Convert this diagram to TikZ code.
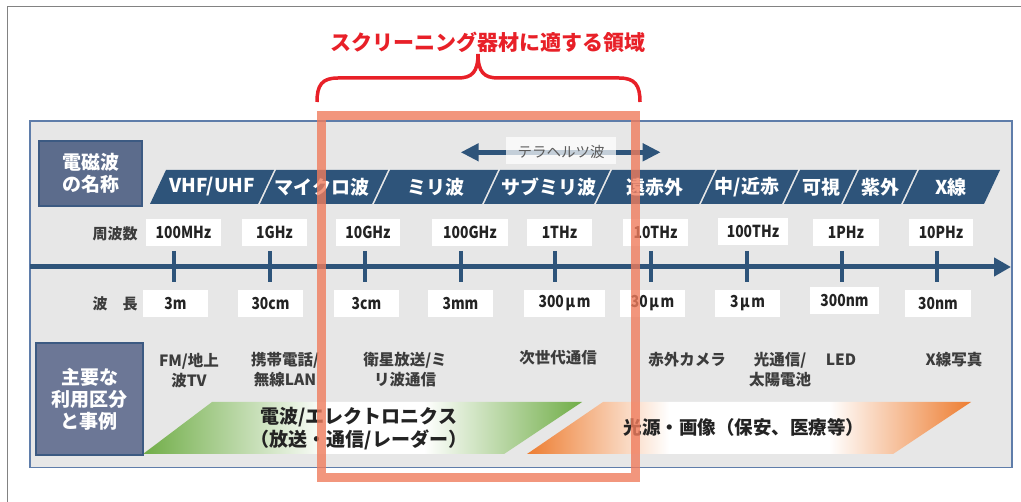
\documentclass[tikz,border=0pt]{standalone}
\usepackage{fontspec}
\setmainfont{Noto Sans CJK JP}
\usetikzlibrary{arrows.meta}
\definecolor{bandblue}{RGB}{46,84,122}
\definecolor{panelgray}{RGB}{231,231,231}
\definecolor{panelborder}{RGB}{95,125,170}
\definecolor{catfillA}{RGB}{92,108,140}
\definecolor{catfillB}{RGB}{108,119,150}
\definecolor{catborder}{RGB}{60,90,130}
\definecolor{framegray}{RGB}{130,130,130}
\definecolor{txtdark}{RGB}{35,35,35}
\definecolor{lblgray}{RGB}{60,60,60}
\definecolor{gdark}{RGB}{112,173,71}
\definecolor{odark}{RGB}{237,125,49}
\definecolor{redbox}{RGB}{239,124,93}
\definecolor{titlered}{RGB}{232,32,40}
\definecolor{thzgray}{RGB}{90,90,90}
\newcommand{\fs}[2]{\fontsize{#1}{#2}\selectfont}
\newcommand{\cnd}[1]{\scalebox{0.84}[1]{#1}}
\pgfdeclarehorizontalshading{greenfade}{100bp}{color(0bp)=(gdark); color(25bp)=(gdark); color(46bp)=(white); color(57bp)=(white); color(75bp)=(gdark); color(100bp)=(gdark)}
\pgfdeclarehorizontalshading{orangefade}{100bp}{color(0bp)=(odark); color(25bp)=(odark); color(41bp)=(white); color(59bp)=(white); color(75bp)=(odark); color(100bp)=(odark)}
\tikzset{
  band/.style={fill=bandblue},
  bandlbl/.style={text=white, font=\fs{19}{22}\bfseries, inner sep=0},
  numbox/.style={fill=white, inner sep=0, minimum height=27, text=txtdark, font=\fs{16.5}{19}\bfseries},
  rowlbl/.style={text=lblgray, font=\fs{15}{18}\bfseries, inner sep=0},
  example/.style={text=lblgray, font=\fs{15.5}{20}\bfseries, align=center, inner sep=0},
  catbox/.style={draw=catborder, line width=1.3, text=white, font=\fs{19}{22}\bfseries, align=center, inner sep=0},
  tickmark/.style={draw=bandblue, line width=4.5},
  axisline/.style={draw=bandblue, line width=5, -{Triangle[length=17,width=18]}},
  thzarrow/.style={draw=bandblue, line width=4.5, {Triangle[length=18,width=17]}-{Triangle[length=18,width=17]}},
  usage/.style={text=txtdark, font=\fs{19}{23}\bfseries, align=center, inner sep=0},
  redframe/.style={draw=redbox, draw opacity=0.8, line width=9},
  brace/.style={draw=titlered, line width=3.5},
}
\begin{document}
\begin{tikzpicture}[x=1pt,y=-1pt]
\useasboundingbox (0,0) rectangle (1021,502);
\fill[white] (0,0) rectangle (1021,502);
% outer frame
\draw[framegray, line width=1.3] (7.5,502) |- (1021,6.5);
% panel
\draw[draw=panelborder, fill=panelgray, line width=1.3] (30,121) rectangle (1012,467.5);

% category box 1
\node[catbox, fill=catfillA, minimum width=103, minimum height=65] (catA) at (90.5,173.5) {電磁波\\の名称};

% bands
\fill[band] (150,204) -- (166,170) -- (274,170) -- (258,204) -- cycle;
\fill[band] (260,204) -- (276,170) -- (388,170) -- (372,204) -- cycle;
\fill[band] (374,204) -- (390,170) -- (498,170) -- (482,204) -- cycle;
\fill[band] (484,204) -- (500,170) -- (610,170) -- (594,204) -- cycle;
\fill[band] (596,204) -- (612,170) -- (715,170) -- (699,204) -- cycle;
\fill[band] (701,204) -- (717,170) -- (798,170) -- (782,204) -- cycle;
\fill[band] (784,204) -- (800,170) -- (857,170) -- (841,204) -- cycle;
\fill[band] (843,204) -- (859,170) -- (917,170) -- (901,204) -- cycle;
\fill[band] (903,204) -- (919,170) -- (1000,170) -- (984,204) -- cycle;
\node[bandlbl] (b1) at (212,187) {VHF/UHF};
\node[bandlbl] (b2) at (322,187) {マイクロ波};
\node[bandlbl] (b3) at (436,187) {ミリ波};
\node[bandlbl] (b4) at (549,187) {サブミリ波};
\node[bandlbl] (b5) at (655,187) {遠赤外};
\node[bandlbl] (b6) at (747,187) {中/近赤};
\node[bandlbl] (b7) at (821,187) {可視};
\node[bandlbl] (b8) at (880,187) {紫外};
\node[bandlbl] (b9) at (951,187) {X線};

% terahertz arrow
\coordinate (thzL) at (460.7,152.3);
\coordinate (thzR) at (660.7,152.3);
\draw[thzarrow] (thzL) -- (thzR);
\fill[white, fill opacity=0.72] (506,137.3) rectangle (615.7,164.3);
\node[text=thzgray, font=\fs{14.5}{17}, inner sep=0] (thz) at (561,151.7) {テラヘルツ波};

% row labels
\node[rowlbl] (lblF) at (115,234) {周波数};
\node[rowlbl] (lblW) at (115,304) {波　長};

% frequency boxes
\node[numbox, minimum width=75] (f1) at (183.5,232.5) {\cnd{100MHz}};
\node[numbox, minimum width=65] (f2) at (274.5,232.5) {\cnd{1GHz}};
\node[numbox, minimum width=64] (f3) at (368,232.5) {\cnd{10GHz}};
\node[numbox, minimum width=76] (f4) at (470,232.5) {\cnd{100GHz}};
\node[numbox, minimum width=65] (f5) at (559.5,232.5) {\cnd{1THz}};
\node[numbox, minimum width=65] (f6) at (655.5,232.5) {\cnd{10THz}};
\node[numbox, minimum width=70] (f7) at (753,231.5) {\cnd{100THz}};
\node[numbox, minimum width=66] (f8) at (846,232.5) {\cnd{1PHz}};
\node[numbox, minimum width=64] (f9) at (941,232.5) {\cnd{10PHz}};

% axis
\coordinate (axL) at (30,267);
\coordinate (axR) at (1011,267);
\draw[axisline] (axL) -- (axR);
\foreach \x [count=\i] in {174,270,365,461,555,651,747,842,937}{
  \coordinate (tkT\i) at (\x,251);
  \coordinate (tkB\i) at (\x,282);
  \draw[tickmark] (tkT\i) -- (tkB\i);
}

% wavelength boxes
\node[numbox, minimum width=65] (w1) at (175.5,303.5) {\cnd{3m}};
\node[numbox, minimum width=65] (w2) at (270.5,303.5) {\cnd{30cm}};
\node[numbox, minimum width=65] (w3) at (366.5,303.5) {\cnd{3cm}};
\node[numbox, minimum width=65] (w4) at (460.5,303.5) {\cnd{3mm}};
\node[numbox, minimum width=81] (w5) at (564.5,303.5) {\cnd{300\hspace{2pt}μ\hspace{2pt}m}};
\node[numbox, minimum width=65] (w6) at (652.5,303.5) {\cnd{30\hspace{2pt}μ\hspace{2pt}m}};
\node[numbox, minimum width=65] (w7) at (747.5,303.5) {\cnd{3\hspace{2pt}μ\hspace{2pt}m}};
\node[numbox, minimum width=69] (w8) at (844.5,301) {\cnd{300nm}};
\node[numbox, minimum width=66] (w9) at (938,303.5) {\cnd{30nm}};

% usage gradients
\shade[shading=greenfade] (143,454) -- (212,402) -- (582,402) -- (504,454) -- cycle;
\shade[shading=orangefade] (527,454) -- (603,402) -- (971,402) -- (893,454) -- cycle;

% category box 2
\node[catbox, fill=catfillB, minimum width=107, minimum height=112] (catB) at (89.5,399) {主要な\\利用区分\\と事例};

% examples
\node[example] (e1) at (189,371) {FM/地上\\波TV};
\node[example] (e2) at (285,370) {携帯電話/\\無線LAN};
\node[example] (e3) at (405,370) {衛星放送/ミ\\リ波通信};
\node[example] (e4) at (558,358) {次世代通信};
\node[example] (e5) at (687,360) {赤外カメラ};
\node[example] (e6) at (780,370) {光通信/\\太陽電池};
\node[example] (e7) at (841,360) {LED};
\node[example] (e8) at (954,360) {X線写真};

% usage texts
\node[usage] (u1) at (359,428.5) {電波/エレクトロニクス\\（放送・通信/レーダー）};
\node[usage, font=\fs{18.5}{22}\bfseries] (u2) at (744,427) {光源・画像（保安、医療等）};

% red frame
\draw[redframe] (321.5,115.5) rectangle (635.5,477.5);

% brace and title
\draw[brace] (317,102) .. controls (317,85) and (322,78) .. (338,78) -- (458,78) .. controls (472,78) and (478,72) .. (478,54) .. controls (478,72) and (484,78) .. (498,78) -- (619,78) .. controls (635,78) and (640,85) .. (640,102);
\node[text=titlered, font=\fs{21}{24}\bfseries, inner sep=0] (ttl) at (488,42) {スクリーニング器材に適する領域};
\end{tikzpicture}
\end{document}
